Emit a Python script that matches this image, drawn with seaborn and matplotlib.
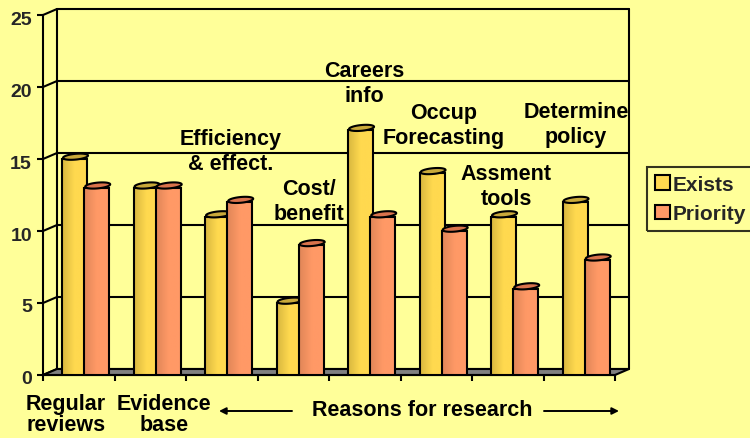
import numpy as np
import pandas as pd
import matplotlib
matplotlib.use('Agg')
import matplotlib.pyplot as plt
from matplotlib.colors import LinearSegmentedColormap
from matplotlib.patches import Polygon, Patch
from matplotlib.transforms import ScaledTranslation
import seaborn as sns

groups = ['Regular reviews', 'Evidence base', 'Efficiency & effect.', 'Cost/ benefit',
          'Careers info', 'Occup Forecasting', 'Assment tools', 'Determine policy']
exists = [15, 13, 11, 5, 17, 14, 11, 12]
priority = [13, 13, 12, 9, 11, 10, 6, 8]
y_ticks = [0, 5, 10, 15, 20, 25]

bar_labels = ['Efficiency\n& effect.', 'Cost/\nbenefit', 'Careers\ninfo',
              'Occup\nForecasting', 'Assment\ntools', 'Determine\npolicy']
bar_label_pos = [(231, 152), (309, 202), (364, 84), (444, 126), (506, 187), (576, 125)]
axis_labels = ['Regular\nreviews', 'Evidence\nbase']
axis_label_pos = [(66, 415), (164, 415)]

W, H = 750, 439
BG = '#FFFF99'
colors = {'Exists': '#FFD94F', 'Priority': '#FF9966'}
shades = {'Exists': '#D9B83F', 'Priority': '#E08658'}
caps = {'Exists': '#C9A93A', 'Priority': '#D9734C'}

sns.set_style('ticks')
plt.rcParams['font.family'] = ['Liberation Sans', 'DejaVu Sans']
plt.rcParams['font.weight'] = 'bold'

df = pd.DataFrame({
    'group': groups * 2,
    'series': ['Exists'] * len(groups) + ['Priority'] * len(groups),
    'value': exists + priority,
})

fig = plt.figure(figsize=(7.5, 4.39), dpi=100, facecolor=BG)
ax = fig.add_axes([43 / W, 1 - 376 / H, 572 / W, 360 / H])
ax.set_facecolor('none')

lw = 1.5
sns.barplot(data=df, x='group', y='value', hue='series', palette=colors, width=0.62,
            gap=0, edgecolor='black', linewidth=lw, legend=False, ax=ax)

xlim = (-0.6, 7.4)
ylim = (0, 25)
dx = 14 / 71.5
dy = 6 / 14.4

# back wall, side lines and floor
for y in y_ticks:
    ax.plot([xlim[0] + dx, xlim[1] + dx], [y + dy, y + dy], color='black', lw=lw, zorder=1, clip_on=False)
    ax.plot([xlim[0], xlim[0] + dx], [y, y + dy], color='black', lw=lw, zorder=1, clip_on=False)
ax.plot([xlim[0] + dx] * 2, [dy, 25 + dy], color='black', lw=lw, zorder=1, clip_on=False)
ax.plot([xlim[1] + dx] * 2, [dy, 25 + dy], color='black', lw=lw, zorder=1, clip_on=False)
ax.add_patch(Polygon([(xlim[0], 0), (xlim[0] + dx, dy), (xlim[1] + dx, dy), (xlim[1], 0)],
                     closed=True, facecolor='#808080', edgecolor='black', lw=lw, zorder=1.5, clip_on=False))

# cylinder look: gradient body and tilted elliptical cap on each bar
t = np.linspace(0, 2 * np.pi, 60)
for container, name, z in zip(ax.containers, ['Exists', 'Priority'], [3, 5]):
    cmap = LinearSegmentedColormap.from_list(name, [shades[name], colors[name], colors[name]])
    for bar in container:
        new_w = 25 / 71.5
        cx = bar.get_x() + bar.get_width() / 2
        bar.set_x(cx - new_w / 2)
        bar.set_width(new_w)
        bar.set_facecolor('none')
        bar.set_zorder(z + 0.2)
        top = bar.get_height()
        ax.imshow(np.linspace(0, 1, 32).reshape(1, -1), cmap=cmap, aspect='auto',
                  extent=(cx - new_w / 2, cx + new_w / 2, 0, top), zorder=z)
        ex = cx + 0.01 + (new_w / 2) * np.cos(t)
        ey = top + 0.16 + 0.2 * np.sin(t) + 0.08 * np.cos(t)
        ax.add_patch(Polygon(np.column_stack([ex, ey]), closed=True, facecolor=caps[name],
                             edgecolor='black', lw=lw, zorder=z + 0.3, clip_on=False))

ax.set_xlim(xlim)
ax.set_ylim(ylim)
ax.set_xlabel('')
ax.set_ylabel('')
ax.set_xticks(np.arange(9) - 0.6)
ax.set_xticklabels([])
ax.set_yticks(y_ticks)
ax.tick_params(axis='both', color='black', width=lw, length=4)
ax.tick_params(axis='y', labelsize=14, pad=4)
nudge = ScaledTranslation(0, -2 / 100, fig.dpi_scale_trans)
for lab in ax.get_yticklabels():
    lab.set_transform(lab.get_transform() + nudge)
sns.despine(ax=ax)
for side in ['left', 'bottom']:
    ax.spines[side].set_linewidth(lw)
    ax.spines[side].set_color('black')

for s, (px, py) in zip(bar_labels, bar_label_pos):
    fig.text(px / W, 1 - py / H, s, ha='center', va='center', fontsize=15.5, linespacing=1.2,
             color='black', zorder=10)
for s, (px, py) in zip(axis_labels, axis_label_pos):
    fig.text(px / W, 1 - py / H, s, ha='center', va='center', fontsize=15.5, linespacing=1.05,
             color='black', zorder=10)

fig.text(422 / W, 1 - 411 / H, 'Reasons for research', ha='center', va='center', fontsize=15.5, color='black')
for start, end in [((292, 412), (219, 412)), ((544, 412), (619, 412))]:
    ax.annotate('', xy=(end[0] / W, 1 - end[1] / H), xytext=(start[0] / W, 1 - start[1] / H),
                xycoords='figure fraction', textcoords='figure fraction',
                arrowprops=dict(arrowstyle='-|>', color='black', lw=1.4, shrinkA=0, shrinkB=0))

handles = [Patch(facecolor=colors[k], edgecolor='black', lw=lw, label=k) for k in ['Exists', 'Priority']]
leg = fig.legend(handles=handles, loc='upper left', bbox_to_anchor=(647 / W, 1 - 168 / H),
                 bbox_transform=fig.transFigure, fontsize=15, frameon=True, fancybox=False,
                 facecolor='none', edgecolor='black', handlelength=0.72, handleheight=0.72,
                 handletextpad=0.15, borderpad=0.38, borderaxespad=0, labelspacing=0.5)
leg.get_frame().set_linewidth(lw)

fig.savefig('out.png', dpi=100, facecolor=BG)
